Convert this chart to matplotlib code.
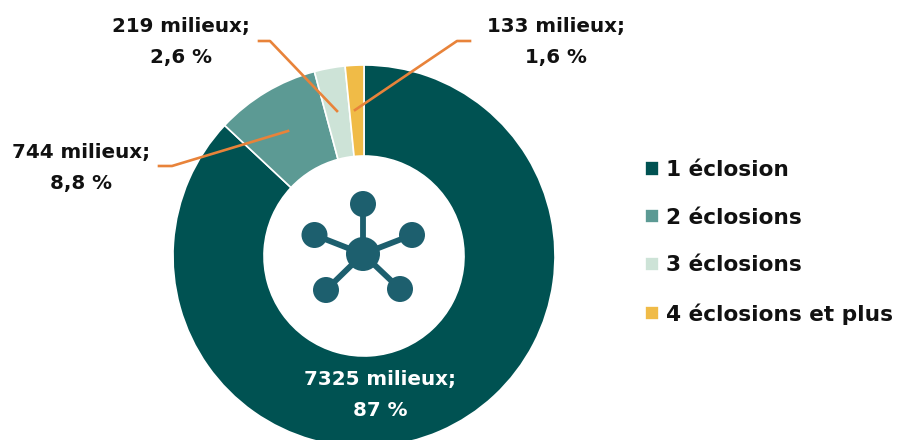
import matplotlib
matplotlib.use("Agg")
import matplotlib.pyplot as plt
from matplotlib.patches import Circle

categories = ["1 éclosion", "2 éclosions", "3 éclosions", "4 éclosions et plus"]
milieux = [7325, 744, 219, 133]
labels = ["7325 milieux;\n87 %", "744 milieux;\n8,8 %", "219 milieux;\n2,6 %", "133 milieux;\n1,6 %"]
colors = ["#005252", "#5c9a94", "#cde3d7", "#f0bb47"]

W, H = 898, 440
CX, CY = 364, H - 256
ORANGE = "#e8833a"
ICON = "#1d5f6e"


def y(py):
    # picture pixels run downward, the axes run upward
    return H - py


def main():
    plt.rcParams["font.family"] = ["DejaVu Sans"]
    fig = plt.figure(figsize=(W / 100, H / 100), dpi=100)
    ax = fig.add_axes([0, 0, 1, 1])

    wedges, _ = ax.pie(milieux, colors=colors, startangle=90, counterclock=False,
                       center=(CX, CY), radius=191,
                       wedgeprops=dict(width=91, edgecolor="white", linewidth=1.2))
    ax.set_xlim(0, W)
    ax.set_ylim(0, H)
    ax.set_aspect("equal")
    ax.axis("off")

    # leader lines
    ax.plot([159, 172, 288], [y(166), y(166), y(131)], color=ORANGE, lw=1.9)
    ax.plot([259, 270, 337], [y(41), y(41), y(111)], color=ORANGE, lw=1.9)
    ax.plot([470, 457, 355], [y(41), y(41), y(110)], color=ORANGE, lw=1.9)

    # data labels
    txt = dict(ha="center", va="center", fontweight="bold", fontsize=14.3, linespacing=1.75)
    ax.text(380, y(395), labels[0], color="white", **txt)
    ax.text(81, y(168), labels[1], color="#111111", **txt)
    ax.text(181, y(42), labels[2], color="#111111", **txt)
    ax.text(556, y(42), labels[3], color="#111111", **txt)

    # icon in the hole
    hub = (363, 254)
    nodes = [(363, 204), (314.5, 235), (412, 235), (326, 290), (400, 289)]
    for nx, ny in nodes:
        ax.plot([hub[0], nx], [y(hub[1]), y(ny)], color=ICON, lw=4.2, solid_capstyle="butt")
        ax.add_patch(Circle((nx, y(ny)), 13, color=ICON, lw=0))
    ax.add_patch(Circle((hub[0], y(hub[1])), 17, color=ICON, lw=0))

    ax.legend(wedges, categories, loc="upper left", bbox_to_anchor=(645 / W, y(160) / H),
              frameon=False, labelcolor="#111111",
              prop=dict(family="DejaVu Sans", weight="bold", size=15.6),
              handlelength=0.65, handleheight=0.65, handletextpad=0.33, labelspacing=1.28,
              borderpad=0, borderaxespad=0)

    fig.savefig("out.png", dpi=100)


if __name__ == '__main__':
    main()
